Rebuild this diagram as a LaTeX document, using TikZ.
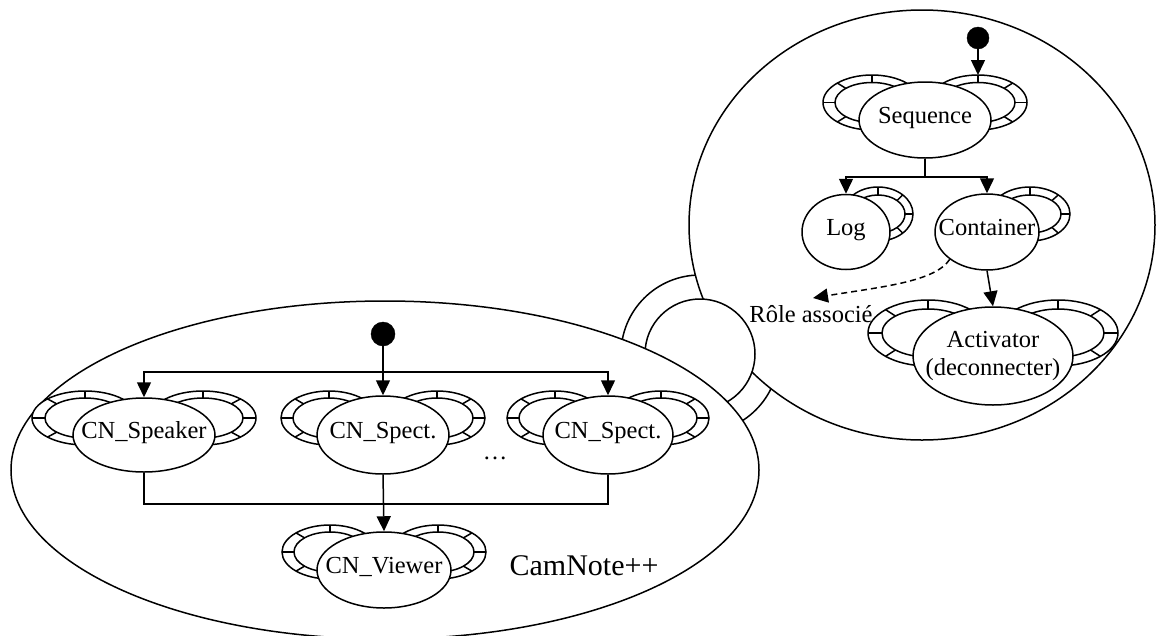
\documentclass[tikz,border=0pt]{standalone}
\usepackage{fontspec}
\setmainfont{Liberation Serif}
\usetikzlibrary{arrows.meta,shapes.geometric,calc}
\tikzset{
  lw/.style={line width=1.5pt},
  statebase/.style={ellipse, draw, line width=1.5pt, fill=white, inner sep=0pt,
    font=\fontsize{24.5}{28}\selectfont},
  state/.style={statebase, text height=13pt, text depth=7pt},
  arr/.style={line width=1.5pt, -{Triangle[length=15pt,width=14pt]}},
  dotnode/.style={circle, draw, fill=black, inner sep=0pt},
  lbl/.style={font=\fontsize{24.5}{28}\selectfont, inner sep=0pt},
}
\newcommand{\Tz}[1]{\makebox[0pt]{#1}}
\newcommand{\rolering}[7]{%
  \draw[lw, fill=white] (#1,#2) ellipse [x radius=#3, y radius=#4];
  \draw[lw] (#1,#2) ellipse [x radius=#5, y radius=#6];
  \foreach \a in {#7} {\draw[lw] ({#1+#5*cos(\a)},{#2-#6*sin(\a)}) -- ({#1+#3*cos(\a)},{#2-#4*sin(\a)});}%
}
\begin{document}
\begin{tikzpicture}[x=1pt,y=-1pt]
\useasboundingbox (0,0) rectangle (1157,635);
% containers and connector
\draw[lw, fill=white] (700,354) circle [radius=79];
\draw[lw, fill=white] (922,225) ellipse [x radius=233, y radius=215];
\draw[lw, fill=white] (700,354) circle [radius=55];
\draw[lw, fill=white] (385,470) ellipse [x radius=374, y radius=169];
% right system rings
\rolering{872}{102.5}{49}{27.5}{37}{20}{90,135,180,225}
\rolering{978}{102.5}{49}{27.5}{37}{20}{90,45,0,-45}
\rolering{878}{214}{35}{27}{27}{19}{90,45,0,-45}
\rolering{1030}{214}{40}{27}{31}{19}{90,45,0,-45}
\rolering{928}{333}{60}{33}{46}{24}{90,135,180,225}
\rolering{1058}{333}{60}{33}{46}{24}{90,45,0,-45}
% left system rings
\rolering{85}{418}{53}{27}{40}{20}{90,135,180,225}
\rolering{203}{418}{53}{27}{40}{20}{90,45,0,-45}
\rolering{329}{418}{48}{27}{36}{20}{90,135,180,225}
\rolering{437}{418}{48}{27}{36}{20}{90,45,0,-45}
\rolering{555}{418}{48}{27}{36}{20}{90,135,180,225}
\rolering{661}{418}{48}{27}{36}{20}{90,45,0,-45}
\rolering{330}{552}{48}{27}{36}{20}{90,135,180,225}
\rolering{438}{552}{48}{27}{36}{20}{90,45,0,-45}
% right system nodes
\node[dotnode, minimum size=22pt] (dotR) at (978,38) {};
\coordinate (seqRtop) at (978,75);
\node[state, minimum width=132pt, minimum height=76pt] (seq) at (925,120) {\Tz{Sequence}};
\node[state, minimum width=88pt, minimum height=75pt] (log) at (846,232) {\Tz{Log}};
\node[state, minimum width=104pt, minimum height=76pt] (cont) at (987,232) {\Tz{Container}};
\node[statebase, minimum width=160pt, minimum height=98pt, align=center] (act) at (993,356) {\Tz{Activator}\\\Tz{(deconnecter)}};
\coordinate (roletip) at (813,298);
% left system nodes
\node[dotnode, minimum size=24pt] (dotL) at (383,334) {};
\node[state, minimum width=142pt, minimum height=74pt] (spk) at (144,435) {\Tz{CN\_Speaker}};
\node[state, minimum width=132pt, minimum height=78pt] (sp1) at (383,435) {\Tz{CN\_Spect.}};
\node[state, minimum width=130pt, minimum height=78pt] (sp2) at (608,435) {\Tz{CN\_Spect.}};
\node[state, minimum width=134pt, minimum height=76pt] (view) at (384,570) {\Tz{CN\_Viewer}};
\coordinate (topbar) at (383,372);
% right system connectors
\draw[arr] (dotR) -- (seqRtop);
\draw[lw] (seq.south) -- ++(0,18) coordinate (seqbar);
\draw[arr] (seqbar) -| (log.north);
\draw[arr] (seqbar) -| (cont.north);
\draw[arr] (cont.south) -- (act.north);
\draw[lw, dash pattern=on 6pt off 4pt, -{Triangle[length=15pt,width=14pt]}]
  (cont.south west) .. controls (935,282) and (880,287) .. (roletip);
% left system connectors
\draw[arr] (dotL) -- (sp1.north);
\draw[arr] (topbar) -| (spk.north);
\draw[arr] (topbar) -| (sp2.north);
\draw[lw] (spk.south) -- ++(0,31) -| (sp2.south);
\draw[arr] (sp1.south) -- (view.north);
% labels
\node[lbl] (role) at (811,314) {Rôle associé};
\node[lbl] (dots) at (495,458) {…};
\node[lbl, font=\fontsize{30}{34}\selectfont] (cam) at (584,566) {CamNote++};
\end{tikzpicture}
\end{document}
